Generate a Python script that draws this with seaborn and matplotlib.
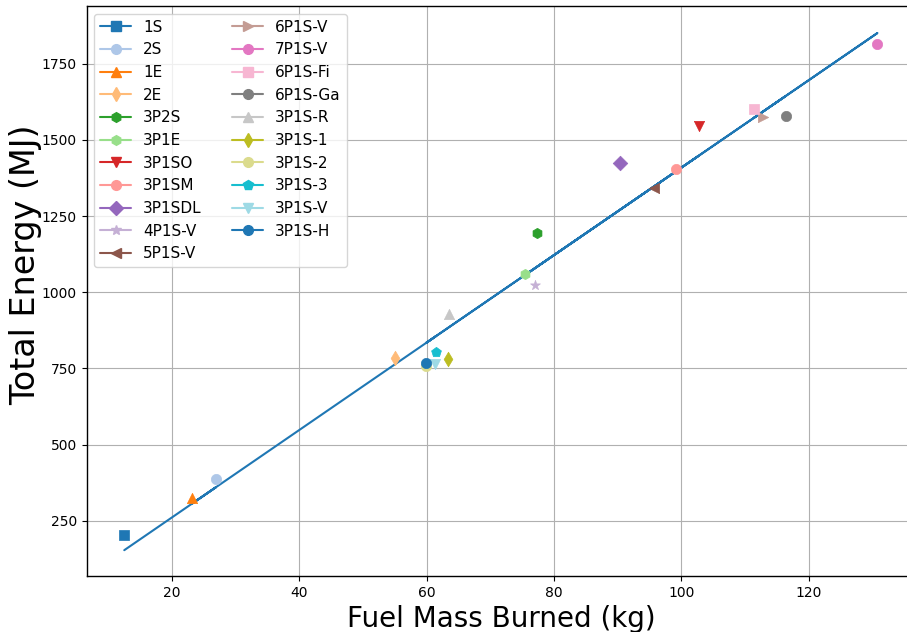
import numpy as np
import pandas as pd
import matplotlib
matplotlib.use("Agg")
import matplotlib.pyplot as plt
from matplotlib.lines import Line2D
import seaborn as sns

labels = ["1S", "2S", "1E", "2E", "3P2S", "3P1E", "3P1SO", "3P1SM", "3P1SDL",
          "4P1S-V", "5P1S-V", "6P1S-V", "7P1S-V", "6P1S-Fi", "6P1S-Ga",
          "3P1S-R", "3P1S-1", "3P1S-2", "3P1S-3", "3P1S-V", "3P1S-H"]
fuel_mass = [12.5, 26.9, 23.2, 55.0, 77.3, 75.4, 102.7, 99.1, 90.3,
             77.0, 95.7, 112.8, 130.8, 111.4, 116.4,
             63.5, 63.3, 59.9, 61.4, 61.3, 59.9]
total_energy = [203, 387, 325, 784, 1194, 1060, 1545, 1404, 1424,
                1024, 1342, 1575, 1814, 1601, 1578,
                928, 781, 758, 804, 764, 768]
markers = ["s", "o", "^", "d", "h", "h", "v", "o", "D",
           "*", "<", ">", "o", "s", "o",
           "^", "d", "o", "p", "v", "o"]

palette = list(plt.get_cmap("tab20").colors) + [plt.get_cmap("tab10").colors[0]]

df = pd.DataFrame({"label": labels, "x": fuel_mass, "y": total_energy})

sns.set_style("white")
plt.rcParams["font.family"] = ["DejaVu Sans"]
plt.rcParams.update({"text.color": "black", "axes.labelcolor": "black",
                     "xtick.color": "black", "ytick.color": "black"})

fig = plt.figure(figsize=(9.07, 6.32), dpi=100)
ax = fig.add_axes([86.7 / 907, 1 - 576 / 632, (915 - 86.7) / 907, (576 - 6) / 632])

handles = []
for i, lab in enumerate(labels):
    sub = df[df["label"] == lab]
    sns.scatterplot(data=sub, x="x", y="y", ax=ax, marker=markers[i],
                    color=palette[i], s=55, edgecolor=palette[i], linewidth=0.5,
                    legend=False, zorder=3)
    handles.append(Line2D([0], [0], color=palette[i], marker=markers[i],
                          markersize=7, linewidth=1.5, label=lab))

# linear fit through the data
coef = np.polyfit(df["x"], df["y"], 1)
fit_df = pd.DataFrame({"x": df["x"], "y": np.polyval(coef, df["x"])})
sns.lineplot(data=fit_df, x="x", y="y", ax=ax, color="#1f77b4", linewidth=1.5,
             sort=False, estimator=None, zorder=2)

ax.set_xlim(6.6, 136.7)
ax.set_ylim(69, 1939)
ax.set_xticks([20, 40, 60, 80, 100, 120])
ax.set_yticks([250, 500, 750, 1000, 1250, 1500, 1750])
ax.grid(True, color="#b0b0b0", linewidth=0.8)
ax.set_axisbelow(True)
for sp in ax.spines.values():
    sp.set_color("black")
    sp.set_linewidth(1.0)
ax.tick_params(axis="both", labelsize=10, length=3.5, width=0.8, color="black",
               labelcolor="black", bottom=True, left=True)
ax.set_xlabel("Fuel Mass Burned (kg)", fontsize=20, color="black")
ax.set_ylabel("Total Energy (MJ)", fontsize=24, color="black")
ax.yaxis.set_label_coords((42 - 86.7) / 828.3, (576 - 265) / 570)

leg = ax.legend(handles=handles, loc="upper left", ncol=2, fontsize=11,
                frameon=True, framealpha=0.8, edgecolor="#cccccc")
for t in leg.get_texts():
    t.set_color("black")

fig.savefig("out.png", dpi=100)
